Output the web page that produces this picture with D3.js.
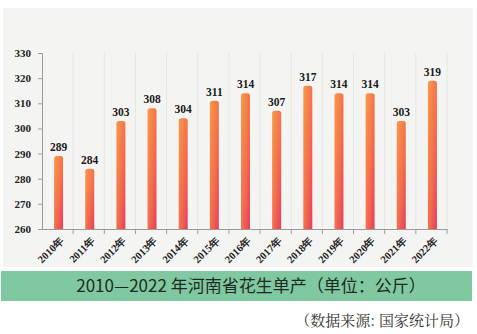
<!DOCTYPE html>
<html><head><meta charset="utf-8">
<script src="https://cdn.jsdelivr.net/npm/d3@7"></script>
<style>html,body{margin:0;padding:0;background:#fff;}svg{display:block;}</style>
</head><body>
<svg id="c" width="477" height="334"></svg>
<script>
const years = ["2010年","2011年","2012年","2013年","2014年","2015年","2016年","2017年","2018年","2019年","2020年","2021年","2022年"];
const values = [289,284,303,308,304,311,314,307,317,314,314,303,319];
const yTicks = [260,270,280,290,300,310,320,330];
const titleText = "2010—2022 年河南省花生单产（单位：公斤）";
const sourceText = "（数据来源: 国家统计局）";

const svg = d3.select("#c");
svg.append("rect").attr("x",3).attr("y",8).attr("width",470).attr("height",259).attr("fill","#f4f5f3");

const defs = svg.append("defs");
const g = defs.append("linearGradient").attr("id","bg").attr("x1","0").attr("y1","0").attr("x2","1").attr("y2","1");
g.append("stop").attr("offset","0%").attr("stop-color","#f99a48");
g.append("stop").attr("offset","55%").attr("stop-color","#f36f4c");
g.append("stop").attr("offset","100%").attr("stop-color","#e73d5e");

const x = d3.scaleBand().domain(years).range([42,447]).paddingInner(0).paddingOuter(0);
const y = d3.scaleLinear().domain([260,330]).range([229,53]);

// vertical faint gridlines
svg.append("g").selectAll("line").data(years).join("line")
  .attr("x1",(d,i)=>42+(i+1)*x.bandwidth()).attr("x2",(d,i)=>42+(i+1)*x.bandwidth())
  .attr("y1",y(330)).attr("y2",y(260))
  .attr("stroke","#e4e7e4").attr("stroke-width",1);

// y axis
const ya = svg.append("g").attr("transform","translate(42,0)")
  .call(d3.axisLeft(y).tickValues(yTicks).tickSize(4).tickFormat(d3.format("d")));
ya.select(".domain").attr("stroke","#9a9a9a");
ya.selectAll(".tick line").attr("stroke","#9a9a9a");
ya.selectAll("text").attr("font-family","'Liberation Serif','DejaVu Serif',serif").attr("font-weight","bold")
  .attr("font-size",11).attr("fill","#222").attr("x",-11);

// x axis
const xa = svg.append("g").attr("transform","translate(0,229)")
  .call(d3.axisBottom(x).tickSize(0).tickSizeOuter(0));
xa.select(".domain").attr("stroke","#9a9a9a");
xa.selectAll(".tick").each(function(){
  d3.select(this).append("line").attr("x1",x.bandwidth()/2).attr("x2",x.bandwidth()/2).attr("y1",0).attr("y2",5).attr("stroke","#9a9a9a");
});
xa.selectAll(".tick text").attr("font-family","'Liberation Serif','DejaVu Serif',serif").attr("font-weight","bold")
  .attr("font-size",10.5).attr("fill","#222")
  .attr("text-anchor","end").attr("dy",0)
  .attr("transform","translate(5,10) rotate(-45)");

// bars
const bw = 9;
svg.append("g").selectAll("path").data(values).join("path")
  .attr("d",(v,i)=>{
    const cx = x(years[i])+x.bandwidth()/2+1;
    const x0 = cx-bw/2, x1 = cx+bw/2, yt = y(v), yb = y(260), r = 2.5;
    return `M${x0},${yb}L${x0},${yt+r}Q${x0},${yt} ${x0+r},${yt}L${x1-r},${yt}Q${x1},${yt} ${x1},${yt+r}L${x1},${yb}Z`;
  })
  .attr("fill","url(#bg)");

// labels
svg.append("g").selectAll("text").data(values).join("text")
  .attr("x",(v,i)=>x(years[i])+x.bandwidth()/2+1)
  .attr("y",v=>y(v)-5)
  .attr("text-anchor","middle")
  .attr("font-family","'Liberation Serif','DejaVu Serif',serif").attr("font-weight","bold")
  .attr("font-size",11.5).attr("fill","#1a1a1a")
  .text(d=>d);

// title band
svg.append("rect").attr("x",1).attr("y",271).attr("width",471).attr("height",30).attr("fill","#80c8a0");
svg.append("text").attr("x",251).attr("y",292).attr("text-anchor","middle")
  .attr("font-family","'Noto Sans CJK SC','Noto Sans',sans-serif").attr("font-size",17).attr("fill","#1f2a22")
  .text(titleText);

svg.append("text").attr("x",469).attr("y",326).attr("text-anchor","end")
  .attr("font-family","'Noto Serif CJK SC','Noto Sans CJK SC',serif").attr("font-size",15).attr("fill","#333")
  .text(sourceText);
</script>
</body></html>
